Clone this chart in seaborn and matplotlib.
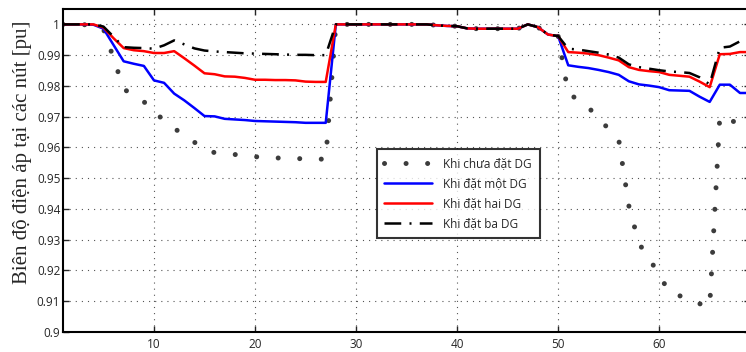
import numpy as np
import matplotlib
matplotlib.use("Agg")
import matplotlib.pyplot as plt
import seaborn as sns


# bus index
bus = list(range(1, 70))

# shared middle section (bus 28 - 50)
middle = [1.0000, 1.0000, 1.0000, 1.0000, 1.0000, 1.0000, 1.0000, 1.0000, 1.0000, 1.0000,
          0.9997, 0.9995, 0.9994, 0.9987, 0.9986, 0.9986, 0.9986, 0.9986, 0.9986, 1.0000,
          0.9991, 0.9967, 0.9962]

# Khi chua dat DG
v_no_dg = [1.0000, 1.0000, 0.9999, 0.9998, 0.9985, 0.9890, 0.9790, 0.9769, 0.9749, 0.9713,
           0.9690, 0.9662, 0.9640, 0.9617, 0.9595, 0.9583, 0.9579, 0.9577, 0.9574, 0.9570,
           0.9567, 0.9566, 0.9565, 0.9564, 0.9563, 0.9562, 0.9562] + middle + \
          [0.9775, 0.9755, 0.9730, 0.9695, 0.9660, 0.9625, 0.9410, 0.9288, 0.9238, 0.9188,
           0.9128, 0.9118, 0.9108, 0.9092, 0.9082, 0.9700, 0.9695, 0.9665, 0.9660]

# Khi dat mot DG
v_one_dg = [1.0000, 1.0000, 1.0000, 0.9999, 0.9986, 0.9933, 0.9880, 0.9872, 0.9865, 0.9818,
            0.9810, 0.9775, 0.9753, 0.9728, 0.9702, 0.9701, 0.9693, 0.9691, 0.9689, 0.9686,
            0.9685, 0.9684, 0.9683, 0.9682, 0.9680, 0.9680, 0.9680] + middle + \
           [0.9867, 0.9862, 0.9858, 0.9852, 0.9845, 0.9836, 0.9815, 0.9805, 0.9801, 0.9796,
            0.9786, 0.9785, 0.9784, 0.9765, 0.9748, 0.9804, 0.9804, 0.9777, 0.9777]

# Khi dat hai DG
v_two_dg = [1.0000, 1.0000, 1.0000, 1.0000, 0.9990, 0.9955, 0.9923, 0.9916, 0.9913, 0.9907,
            0.9907, 0.9913, 0.9890, 0.9866, 0.9841, 0.9838, 0.9831, 0.9830, 0.9826, 0.9820,
            0.9820, 0.9819, 0.9819, 0.9818, 0.9814, 0.9813, 0.9813] + middle + \
           [0.9910, 0.9908, 0.9905, 0.9900, 0.9892, 0.9883, 0.9861, 0.9852, 0.9848, 0.9845,
            0.9836, 0.9833, 0.9830, 0.9814, 0.9796, 0.9903, 0.9904, 0.9910, 0.9910]

# Khi dat ba DG
v_three_dg = [1.0000, 1.0000, 1.0000, 1.0000, 0.9993, 0.9960, 0.9926, 0.9924, 0.9923, 0.9921,
              0.9932, 0.9948, 0.9935, 0.9922, 0.9915, 0.9912, 0.9910, 0.9908, 0.9906, 0.9905,
              0.9904, 0.9903, 0.9902, 0.9901, 0.9901, 0.9900, 0.9900] + middle + \
             [0.9921, 0.9918, 0.9913, 0.9908, 0.9902, 0.9892, 0.9870, 0.9861, 0.9856, 0.9851,
              0.9847, 0.9845, 0.9842, 0.9828, 0.9805, 0.9924, 0.9928, 0.9945, 0.9948]

labels = ["Khi chưa đặt DG", "Khi đặt một DG", "Khi đặt hai DG", "Khi đặt ba DG"]
x_ticks = [10, 20, 30, 40, 50, 60]
y_ticks = [0.9, 0.91, 0.92, 0.93, 0.94, 0.95, 0.96, 0.97, 0.98, 0.99, 1.0]
y_ticklabels = ["0.9", "0.91", "0.92", "0.93", "0.94", "0.95", "0.96", "0.97", "0.98", "0.99", "1"]

sns.set_style("white")
plt.rcParams['font.family'] = ['Open Sans', 'DejaVu Sans']

fig = plt.figure(figsize=(7.46, 3.52), dpi=100)
ax = fig.add_axes([0.0845, 0.0568, 0.921, 0.9176])

sns.lineplot(x=bus, y=v_no_dg, ax=ax, color='#3c3c3c', lw=3.6,
             linestyle=(0, (0.01, 4.3)), dash_capstyle='round', label=labels[0])
sns.lineplot(x=bus, y=v_one_dg, ax=ax, color='#0000ff', lw=1.8, label=labels[1])
sns.lineplot(x=bus, y=v_two_dg, ax=ax, color='#ff0000', lw=1.8, label=labels[2])
sns.lineplot(x=bus, y=v_three_dg, ax=ax, color='black', lw=1.8,
             linestyle=(0, (6.7, 3.3, 0.8, 3.3)), label=labels[3])

ax.set_xlim(1, 69)
ax.set_ylim(0.9, 1.005)
ax.set_xticks(x_ticks)
ax.set_yticks(y_ticks)
ax.set_yticklabels(y_ticklabels)
ax.grid(True, color='#555555', linestyle=(0, (1, 4.5)), linewidth=0.8)

for s in ax.spines.values():
    s.set_linewidth(1.5)
    s.set_color('black')

ax.tick_params(axis='both', direction='in', length=4, width=1, labelsize=8.5,
               top=True, right=True, bottom=True, left=True)
ax.tick_params(axis='x', pad=4)
ax.tick_params(axis='y', pad=2)

ax.set_ylabel("Biên độ điện áp tại các nút [pu]", family=['Liberation Serif', 'DejaVu Serif'],
              fontsize=15)
ax.yaxis.set_label_coords(-0.045, 0.555)
ax.set_xlabel("")

leg = ax.legend(loc='upper left', bbox_to_anchor=(0.4566, 0.5656), borderaxespad=0,
                fontsize=8.5, frameon=True, fancybox=False, handlelength=4.0,
                handletextpad=1.0, labelspacing=0.6, borderpad=0.65)
leg.get_frame().set_edgecolor('black')
leg.get_frame().set_linewidth(1.5)

fig.savefig("out.png", dpi=100)
